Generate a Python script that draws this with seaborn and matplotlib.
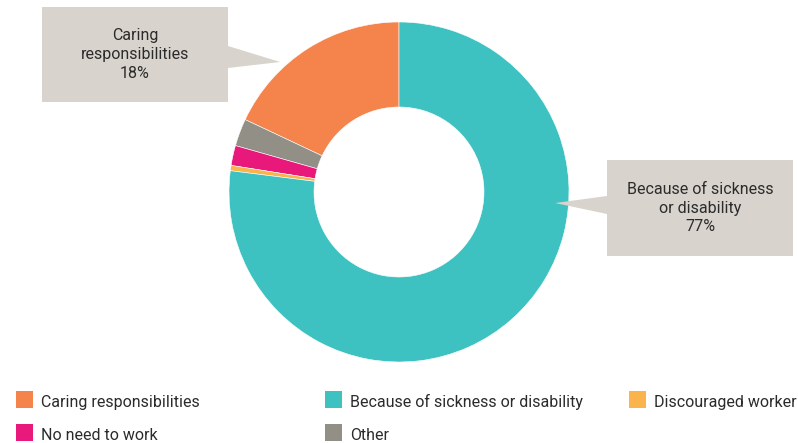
import matplotlib
matplotlib.use("Agg")
import matplotlib.pyplot as plt
from matplotlib.patches import Polygon, Rectangle
import seaborn as sns

# Reasons for economic inactivity (share, %)
categories = ["Caring responsibilities", "Other", "No need to work",
              "Discouraged worker", "Because of sickness or disability"]
shares = [18.0, 2.6, 1.9, 0.5, 77.0]
colors = ["#F4834C", "#918F86", "#E8197A", "#FBB34C", "#3EC1C1"]

legend_order = ["Caring responsibilities", "Because of sickness or disability",
                "Discouraged worker", "No need to work", "Other"]

sns.set_theme(style="white")
plt.rcParams["font.family"] = ["Roboto", "DejaVu Sans"]
palette = dict(zip(categories, sns.color_palette(colors)))

W, H = 798, 443
fig = plt.figure(figsize=(W / 100, H / 100), dpi=100)
ax = fig.add_axes([0, 0, 1, 1])

cx, cy, r = 399, H - 192, 170
ax.pie(shares, colors=[palette[c] for c in categories], startangle=90,
       counterclock=True, center=(cx, cy), radius=r, frame=True,
       wedgeprops=dict(width=85, edgecolor="white", linewidth=0.4))
ax.set_xlim(0, W)
ax.set_ylim(0, H)
ax.set_aspect("equal")
ax.axis("off")

box_col = "#D8D3CC"
txt_col = "#2B2B2B"
fs = 11.5


def callout(x0, y0, x1, y1, tip, base_y0, base_y1, side, lines):
    # box in pixel coordinates measured from the top
    ax.add_patch(Rectangle((x0, H - y1), x1 - x0, y1 - y0, color=box_col, lw=0))
    bx = x1 if side == "right" else x0
    ax.add_patch(Polygon([(bx, H - base_y0), (tip[0], H - tip[1]),
                          (bx, H - base_y1)], closed=True, color=box_col, lw=0))
    xc = (x0 + x1) / 2
    yc = (y0 + y1) / 2
    ax.text(xc, H - yc, "\n".join(lines), ha="center", va="center",
            fontsize=fs, color=txt_col, linespacing=1.3)


v = dict(zip(categories, shares))
callout(42, 7, 228, 102, (280, 62), 46, 68, "right",
        ["Caring", "responsibilities", f"{v['Caring responsibilities']:.0f}%"])
callout(607, 160, 793, 256, (555, 203), 196, 214, "left",
        ["Because of sickness", "or disability",
         f"{v['Because of sickness or disability']:.0f}%"])

# legend drawn as swatches with labels
col_x = [16, 325, 629]
row_y = [400, 433]
for i, name in enumerate(legend_order):
    x = col_x[i % 3]
    y = row_y[i // 3]
    ax.add_patch(Rectangle((x, H - y - 8), 17, 17, color=palette[name], lw=0))
    ax.text(x + 25, H - y - 2, name, ha="left", va="center",
            fontsize=fs, color=txt_col)

fig.savefig("out.png", dpi=100)
